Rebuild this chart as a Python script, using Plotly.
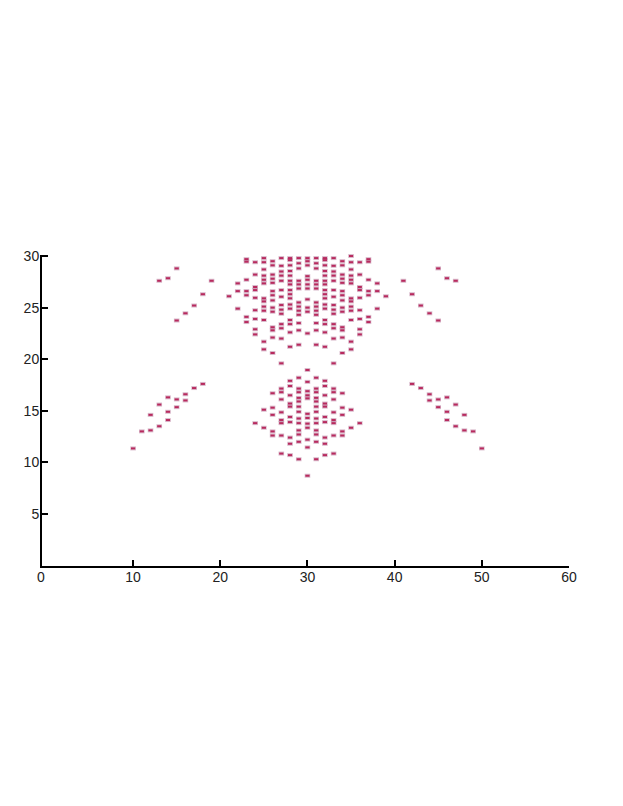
import plotly.graph_objects as go

# Column-wise readings: x category -> y values
columns = {
    10: [11.35],
    11: [13.0],
    12: [13.1, 14.6],
    13: [13.5, 15.6, 27.6],
    14: [14.1, 14.9, 16.3, 27.85],
    15: [15.35, 16.1, 23.75, 28.8],
    16: [16.0, 16.6, 24.45],
    17: [17.2, 25.2],
    18: [17.6, 26.3],
    19: [27.6],
    21: [26.1],
    22: [24.9, 26.6, 27.35],
    23: [23.6, 24.1, 26.2, 26.6, 27.7, 29.45, 29.7],
    24: [13.8, 22.4, 22.9, 23.9, 24.75, 25.95, 26.7, 27.0, 28.2, 29.4],
    25: [13.35, 15.1, 20.95, 21.7, 23.8, 24.7, 25.1, 25.6, 25.9, 27.35, 27.7, 28.1, 28.7, 29.4, 29.8],
    26: [12.6, 13.0, 14.6, 15.3, 16.7, 20.6, 22.1, 22.8, 23.1, 24.6, 25.0, 25.7, 26.2, 26.6, 27.4, 27.8, 28.2, 29.1, 29.5],
    27: [10.85, 12.6, 13.8, 14.1, 14.85, 16.1, 16.8, 17.15, 19.6, 22.0, 23.0, 23.4, 24.4, 24.8, 25.25, 26.05, 26.7, 27.6, 28.1, 28.5, 29.05, 29.8],
    28: [10.7, 11.8, 12.4, 13.9, 14.4, 15.4, 15.7, 16.5, 17.4, 17.9, 21.2, 22.6, 23.4, 23.8, 24.9, 25.3, 25.9, 26.3, 26.7, 27.25, 27.6, 28.1, 28.55, 29.1, 29.6, 29.8],
    29: [10.3, 11.99, 12.7, 13.1, 13.8, 14.25, 14.9, 15.4, 15.9, 16.25, 16.8, 17.15, 18.2, 21.4, 22.8, 23.5, 24.3, 24.7, 25.1, 25.5, 26.85, 27.25, 27.6, 28.8, 29.3, 29.8],
    30: [8.7, 11.45, 12.2, 13.35, 13.75, 14.3, 14.7, 16.2, 16.5, 16.9, 17.8, 18.95, 22.5, 24.6, 25.0, 25.8, 26.85, 27.25, 27.7, 28.05, 29.1, 29.5, 29.8],
    31: [10.3, 11.99, 12.7, 13.1, 13.8, 14.25, 14.9, 15.4, 15.9, 16.25, 16.8, 17.15, 18.2, 21.4, 22.8, 23.5, 24.3, 24.7, 25.1, 25.5, 26.85, 27.25, 27.6, 28.8, 29.3, 29.8],
    32: [10.7, 11.8, 12.4, 13.9, 14.4, 15.4, 15.7, 16.5, 17.4, 17.9, 21.2, 22.6, 23.4, 23.8, 24.9, 25.3, 25.9, 26.3, 26.7, 27.25, 27.6, 28.1, 28.55, 29.1, 29.6, 29.8],
    33: [10.85, 12.6, 13.8, 14.1, 14.85, 16.1, 16.8, 17.15, 19.6, 22.0, 23.0, 23.4, 24.4, 24.8, 25.25, 26.05, 26.7, 27.6, 28.1, 28.5, 29.05, 29.8],
    34: [12.6, 13.0, 14.6, 15.3, 16.7, 20.6, 22.1, 22.8, 23.1, 24.6, 25.0, 25.7, 26.2, 26.6, 27.4, 27.8, 28.2, 29.1, 29.5],
    35: [13.35, 15.1, 20.95, 21.7, 23.8, 24.7, 25.1, 25.6, 25.9, 27.35, 27.7, 28.1, 28.7, 29.4, 30.0],
    36: [13.8, 22.4, 22.9, 23.9, 24.75, 25.95, 26.7, 27.0, 28.2, 29.4],
    37: [23.6, 24.1, 26.2, 26.6, 27.7, 29.45, 29.7],
    38: [24.9, 26.6, 27.35],
    39: [26.1],
    41: [27.6],
    42: [17.6, 26.3],
    43: [17.2, 25.2],
    44: [16.0, 16.6, 24.45],
    45: [15.35, 16.1, 23.75, 28.8],
    46: [14.1, 14.9, 16.3, 27.85],
    47: [13.5, 15.6, 27.6],
    48: [13.1, 14.6],
    49: [13.0],
    50: [11.35],
}
x_values = [c for c, ys in columns.items() for _ in ys]
y_values = [y for ys in columns.values() for y in ys]
x_ticks = [10, 20, 30, 40, 50, 60]
y_ticks = [5, 10, 15, 20, 25, 30]

OFF = 8
fig = go.Figure()
fig.add_trace(go.Scatter(x=x_values, y=y_values, mode="markers", cliponaxis=False,
    marker=dict(symbol="line-ew", size=4, line=dict(color="rgba(185,130,160,0.55)", width=4)),
    showlegend=False, hoverinfo="skip"))
fig.add_trace(go.Scatter(x=x_values, y=y_values, mode="markers", cliponaxis=False,
    marker=dict(symbol="line-ew", size=3, line=dict(color="#b82a5e", width=2)),
    showlegend=False, hoverinfo="skip"))
font = dict(family="Liberation Sans, Arial, sans-serif", size=14, color="#222")
fig.update_layout(
    width=607, height=790, paper_bgcolor="white", plot_bgcolor="white",
    margin=dict(l=42.3 - OFF, r=623 - 569.5 - OFF, t=254.5 - OFF, b=806 - 565.8 - OFF, autoexpand=False),
    xaxis=dict(range=[-0.45, 60], tickvals=x_ticks, ticks="inside", ticklen=6, tickwidth=2, tickcolor="black",
               showline=True, linecolor="black", linewidth=2, showgrid=False, zeroline=False, tickfont=font,
               ticklabelstandoff=-3),
    yaxis=dict(range=[-0.05, 30.1], tickvals=y_ticks, ticks="inside", ticklen=6, tickwidth=2, tickcolor="black",
               showline=True, linecolor="black", linewidth=2, showgrid=False, zeroline=False, tickfont=font,
               ticklabelstandoff=-2),
    annotations=[dict(text="0", x=(41.5 - 42.3) / (569.5 - 42.3), y=(565.8 - 576.7) / (565.8 - 254.5),
                      xref="paper", yref="paper", xanchor="center", yanchor="middle",
                      showarrow=False, font=font)],
)
fig.write_html("out.html")
